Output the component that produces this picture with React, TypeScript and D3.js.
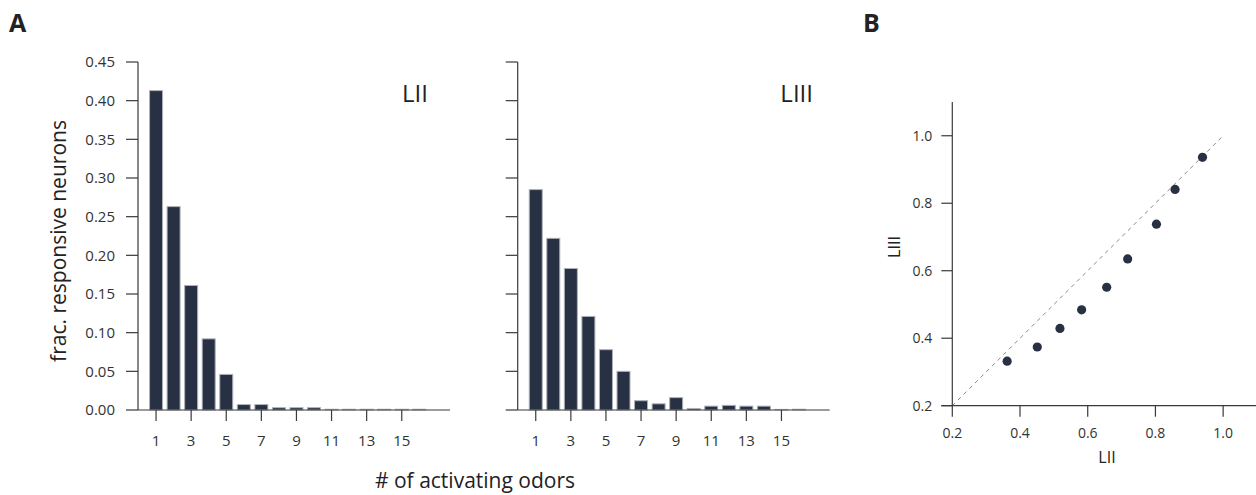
import React from "react";
import * as d3 from "d3";

const odorCounts = [1, 2, 3, 4, 5, 6, 7, 8, 9, 10, 11, 12, 13, 14, 15, 16];
const fracLII = [0.413, 0.263, 0.161, 0.092, 0.046, 0.007, 0.007, 0.003, 0.003, 0.003, 0.001, 0.001, 0.001, 0.001, 0.001, 0.001];
const fracLIII = [0.285, 0.222, 0.183, 0.121, 0.078, 0.05, 0.012, 0.008, 0.016, 0.002, 0.005, 0.006, 0.005, 0.005, 0.0008, 0.001];
const yTicksA = [0, 0.05, 0.1, 0.15, 0.2, 0.25, 0.3, 0.35, 0.4, 0.45];
const xTicksA = [1, 3, 5, 7, 9, 11, 13, 15];

const scatterLII = [0.362, 0.451, 0.518, 0.582, 0.656, 0.718, 0.803, 0.858, 0.939];
const scatterLIII = [0.332, 0.374, 0.429, 0.484, 0.551, 0.635, 0.738, 0.841, 0.936];
const ticksB = [0.2, 0.4, 0.6, 0.8, 1.0];

const FONT = "'Open Sans', 'Noto Sans', sans-serif";
const TXT = "#333";
const AX = "#3a3a3a";
const BAR = "#283044";
const BAR_STROKE = "#aeb2b8";

const yA = d3.scaleLinear().domain([0, 0.45]).range([410, 62]);

function BarPanel({ x0, values, showY, title, titleX }: { x0: number; values: number[]; showY: boolean; title: string; titleX: number }) {
  const x = d3.scaleLinear().domain([0, 1]).range([x0 + 0.5, x0 + 18.05]);
  const xEnd = x0 + 312;
  const barW = 13;
  return (
    <g>
      {odorCounts.map((c, i) => {
        const v = values[i];
        const top = yA(v);
        const h = yA(0) - top;
        return (
          <rect key={c} x={x(c) - barW / 2} y={top} width={barW} height={Math.max(h, 0.6)} fill={BAR} stroke={BAR_STROKE} strokeWidth={1} />
        );
      })}
      <line x1={x0} x2={x0} y1={yA(0.45)} y2={yA(0)} stroke={AX} strokeWidth={1.2} />
      {yTicksA.map((t) => (
        <g key={t}>
          <line x1={x0 - 12} x2={x0} y1={yA(t)} y2={yA(t)} stroke={AX} strokeWidth={1.2} />
          {showY && (
            <text x={x0 - 23} y={yA(t)} dy="0.35em" textAnchor="end" fontSize={15} fill={TXT} fontFamily={FONT}>
              {d3.format(".2f")(t)}
            </text>
          )}
        </g>
      ))}
      <line x1={x0} x2={xEnd} y1={yA(0)} y2={yA(0)} stroke={AX} strokeWidth={1.2} />
      {xTicksA.map((t) => (
        <g key={t}>
          <line x1={x(t)} x2={x(t)} y1={yA(0)} y2={yA(0) + 11} stroke={AX} strokeWidth={1.2} />
          <text x={x(t)} y={446} textAnchor="middle" fontSize={15} fill={TXT} fontFamily={FONT}>
            {t}
          </text>
        </g>
      ))}
      <text x={titleX} y={102} textAnchor="end" fontSize={24} fill="#222" fontFamily={FONT}>
        {title}
      </text>
    </g>
  );
}

function ScatterPanel() {
  const x = d3.scaleLinear().domain([0.2, 1.1]).range([952.3, 1257]);
  const y = d3.scaleLinear().domain([0.2, 1.1]).range([405.7, 102]);
  return (
    <g>
      <line x1={x(0.2)} y1={y(0.2)} x2={x(1.0)} y2={y(1.0)} stroke="#8a8a8a" strokeWidth={1} strokeDasharray="4,4" />
      <line x1={x(0.2)} x2={x(0.2)} y1={y(1.1)} y2={y(0.2)} stroke={AX} strokeWidth={1.2} />
      {ticksB.map((t) => (
        <g key={"y" + t}>
          <line x1={x(0.2) - 11} x2={x(0.2)} y1={y(t)} y2={y(t)} stroke={AX} strokeWidth={1.2} />
          <text x={x(0.2) - 20} y={y(t)} dy="0.35em" textAnchor="end" fontSize={14} fill={TXT} fontFamily={FONT}>
            {d3.format(".1f")(t)}
          </text>
        </g>
      ))}
      <line x1={x(0.2) - 11} x2={x(1.1)} y1={y(0.2)} y2={y(0.2)} stroke={AX} strokeWidth={1.2} />
      {ticksB.map((t) => (
        <g key={"x" + t}>
          <line x1={x(t)} x2={x(t)} y1={y(0.2)} y2={y(0.2) + 11} stroke={AX} strokeWidth={1.2} />
          <text x={x(t)} y={438} textAnchor="middle" fontSize={14} fill={TXT} fontFamily={FONT}>
            {d3.format(".1f")(t)}
          </text>
        </g>
      ))}
      {scatterLII.map((v, i) => (
        <circle key={i} cx={x(v)} cy={y(scatterLIII[i])} r={4.6} fill={BAR} />
      ))}
      <text x={1107} y={463} textAnchor="middle" fontSize={16} fill="#222" fontFamily={FONT}>
        LII
      </text>
      <text transform="translate(900,247) rotate(-90)" textAnchor="middle" fontSize={16} fill="#222" fontFamily={FONT}>
        LIII
      </text>
    </g>
  );
}

export default function App() {
  return (
    <svg width={1256} height={495} style={{ position: "absolute", left: 0, top: 0, background: "#fff" }}>
      <rect width={1256} height={495} fill="#fff" />
      <text x={9} y={32} fontSize={25} fontWeight="bold" fill="#222" fontFamily={FONT}>
        A
      </text>
      <text x={863} y={32} fontSize={25} fontWeight="bold" fill="#222" fontFamily={FONT}>
        B
      </text>
      <BarPanel x0={138} values={fracLII} showY={true} title="LII" titleX={428} />
      <BarPanel x0={517.7} values={fracLIII} showY={false} title="LIII" titleX={813} />
      <text transform="translate(66,241) rotate(-90)" textAnchor="middle" fontSize={21} fill="#222" fontFamily={FONT}>
        frac. responsive neurons
      </text>
      <text x={475} y={488} textAnchor="middle" fontSize={21} fill="#222" fontFamily={FONT}>
        # of activating odors
      </text>
      <ScatterPanel />
    </svg>
  );
}
